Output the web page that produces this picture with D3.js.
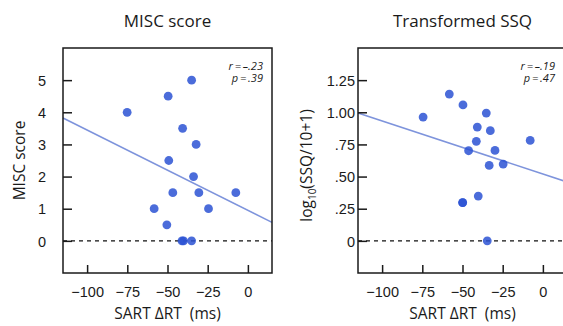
<!DOCTYPE html>
<html>
<head>
<meta charset="utf-8">
<script src="https://cdn.jsdelivr.net/npm/d3@7"></script>
<style>
  body { margin: 0; background: #fff; }
  svg { display: block; font-family: "Open Sans", "Noto Sans", sans-serif; }
</style>
</head>
<body>
<svg id="chart" width="563" height="326"></svg>
<script>
// shared x axis
var xTicks = [-100, -75, -50, -25, 0]
var xLabel = "SART \u0394RT  (ms)"

// MISC score panel
var miscX = [-35, -49.6, -75.1, -40.6, -32.2, -49.2, -33.8, -46.7, -30.5, -7.5, -58.3, -24.5, -50.4, -41, -40, -35]
var miscY = [5, 4.5, 4, 3.5, 3, 2.5, 2, 1.5, 1.5, 1.5, 1, 1, 0.5, 0, 0, 0]
var miscTicks = [0, 1, 2, 3, 4, 5]
var miscTickLabels = ["0", "1", "2", "3", "4", "5"]
var miscFit = [0.95, -0.025]   // intercept, slope
var miscStats = ["r = \u2013.23", "p = .39"]

// Transformed SSQ panel
var ssqX = [-74.5, -58.2, -49.7, -35.2, -40.8, -32.7, -41.4, -7.9, -46.2, -29.8, -33.4, -24.7, -40.2, -49.9, -49.9, -34.6]
var ssqY = [0.963, 1.142, 1.057, 0.994, 0.885, 0.857, 0.774, 0.781, 0.701, 0.703, 0.587, 0.597, 0.348, 0.298, 0.298, 0]
var ssqTicks = [0, 0.25, 0.5, 0.75, 1, 1.25]
var ssqTickLabels = ["0", ".25", ".50", ".75", "1.00", "1.25"]
var ssqFit = [0.52, -0.00412]
var ssqStats = ["r = \u2013.19", "p = .47"]

var svg = d3.select("#chart")

function panel(o) {
  var x = d3.scaleLinear().domain([-115, 15]).range([o.left, o.right])
  var y = d3.scaleLinear().domain(o.yDomain).range([o.bottom, o.top])
  var g = svg.append("g")

  // dashed zero line
  g.append("line")
    .attr("x1", x(-115)).attr("x2", x(15))
    .attr("y1", y(0)).attr("y2", y(0))
    .attr("stroke", "#111").attr("stroke-width", 1.3)
    .attr("stroke-dasharray", "4,4")

  // fit line
  g.append("line")
    .attr("x1", x(-115)).attr("x2", x(15))
    .attr("y1", y(o.fit[0] + o.fit[1] * -115))
    .attr("y2", y(o.fit[0] + o.fit[1] * 15))
    .attr("stroke", "#7e94dc").attr("stroke-width", 1.6)

  // points
  g.selectAll("circle")
    .data(o.xs.map((d, i) => [d, o.ys[i]]))
    .join("circle")
    .attr("cx", d => x(d[0]))
    .attr("cy", d => y(d[1]))
    .attr("r", 4.4)
    .attr("fill", "#2c52d4")
    .attr("fill-opacity", 0.85)

  // frame
  g.append("rect")
    .attr("x", o.left).attr("y", o.top)
    .attr("width", o.right - o.left).attr("height", o.bottom - o.top)
    .attr("fill", "none").attr("stroke", "#1a1a1a").attr("stroke-width", 1.5)

  var xAxis = g.append("g")
    .attr("transform", `translate(0,${o.bottom})`)
    .call(d3.axisBottom(x).tickValues(xTicks).tickSize(-8).tickFormat(d3.format("d")))
  var yAxis = g.append("g")
    .attr("transform", `translate(${o.left},0)`)
    .call(d3.axisLeft(y).tickValues(o.yTicks).tickSize(-9).tickPadding(o.yPad)
      .tickFormat((d, i) => o.yTickLabels[i]))

  ;[xAxis, yAxis].forEach(a => {
    a.select(".domain").remove()
    a.selectAll(".tick line").attr("stroke", "#1a1a1a").attr("stroke-width", 1.5)
    a.selectAll(".tick text").attr("fill", "#1a1a1a")
      .style("font-size", "14.5px").style("font-family", "inherit")
  })
  xAxis.selectAll(".tick text").attr("y", 14)
  yAxis.selectAll(".tick text").attr("dy", "0.36em")

  // title
  g.append("text")
    .attr("x", (o.left + Math.min(o.right, 567)) / 2).attr("y", 27)
    .attr("text-anchor", "middle").style("font-size", "17px")
    .attr("fill", "#1a1a1a").text(o.title)

  // x label
  g.append("text")
    .attr("x", (o.left + o.right) / 2).attr("y", 319)
    .attr("text-anchor", "middle").style("font-size", "15.5px")
    .style("white-space", "pre")
    .attr("fill", "#1a1a1a").text(xLabel)

  // stats, one text block with two lines
  var st = g.append("text")
    .attr("text-anchor", "end").style("font-size", "11px")
    .style("font-style", "italic").attr("fill", "#1a1a1a")
  o.stats.forEach((s, i) => {
    var parts = s.split(" = ")
    st.append("tspan")
      .attr("x", o.statX).attr("y", 69.5 + i * 12)
      .text(parts[0] + "\u2009=\u2009" + parts[1])
  })

  // y label
  var yl = g.append("text")
    .attr("transform", `translate(${o.yLabelX},${(o.top + o.bottom) / 2 + o.yLabelShift}) rotate(-90)`)
    .attr("text-anchor", "middle").style("font-size", "15.5px")
    .attr("fill", "#1a1a1a")
  o.yLabel(yl)
}

panel({
  left: 63, right: 272, top: 48, bottom: 273,
  yDomain: [-1, 6], yTicks: miscTicks, yTickLabels: miscTickLabels, yPad: 17,
  xs: miscX, ys: miscY, fit: miscFit, stats: miscStats, statX: 263,
  title: "MISC score", yLabelX: 25, yLabelShift: 0,
  yLabel: t => t.text("MISC score")
})

panel({
  left: 358, right: 567, top: 48, bottom: 273,
  yDomain: [-0.25, 1.5], yTicks: ssqTicks, yTickLabels: ssqTickLabels, yPad: 3,
  xs: ssqX, ys: ssqY, fit: ssqFit, stats: ssqStats, statX: 555,
  title: "Transformed SSQ", yLabelX: 312, yLabelShift: 5,
  yLabel: t => {
    t.append("tspan").text("log")
    t.append("tspan").text("10").style("font-size", "10px").attr("dy", 4)
    t.append("tspan").text("(SSQ/10+1)").attr("dy", -4)
  }
})
</script>
</body>
</html>
